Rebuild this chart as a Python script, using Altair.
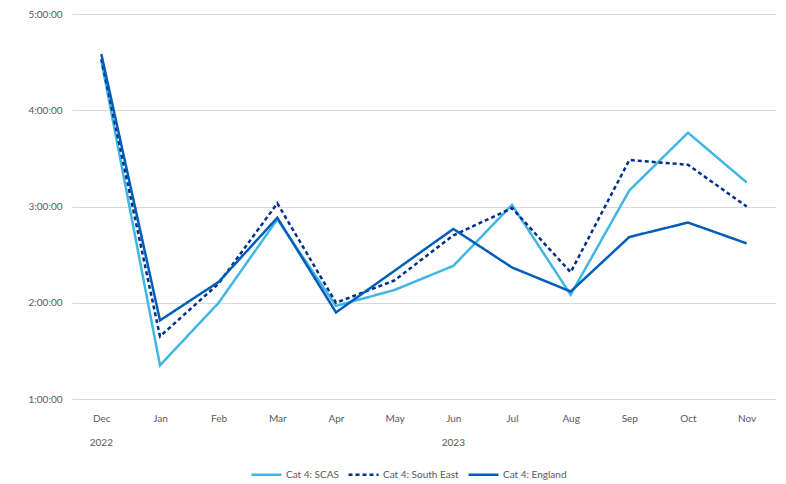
import altair as alt
import pandas as pd

# Monthly Category 4 response times (h:mm)
months = ["Dec", "Jan", "Feb", "Mar", "Apr", "May", "Jun", "Jul", "Aug", "Sep", "Oct", "Nov"]
scas = ["4:31", "1:21", "2:00", "2:52", "1:58", "2:08", "2:23", "3:01", "2:05", "3:10", "3:46", "3:15"]
south_east = ["4:32", "1:39", "2:12", "3:02", "2:00", "2:14", "2:42", "2:59", "2:19", "3:29", "3:26", "3:00"]
england = ["4:35", "1:49", "2:13", "2:53", "1:54", "2:20", "2:46", "2:22", "2:07", "2:41", "2:50", "2:37"]

series_names = ["Cat 4: SCAS", "Cat 4: South East", "Cat 4: England"]
series_colors = ["#41B6E6", "#003087", "#005EB8"]
series_dashes = [[1, 0], [4, 3], [1, 0]]

year_labels = ["2022", "2023"]
year_anchor = ["Dec", "Jun"]


def to_hours(s):
    h, m = s.split(":")
    return int(h) + int(m) / 60.0


rows = []
for name, vals in zip(series_names, [scas, south_east, england]):
    for i, (mo, v) in enumerate(zip(months, vals)):
        rows.append({"month": mo, "series": name, "hours": to_hours(v), "order": i})
df = pd.DataFrame(rows)
years_df = pd.DataFrame({"month": year_anchor, "year": year_labels})

FONT = "Lato"
GREY = "#595959"
W, H = 704, 385


def legend():
    return alt.Legend(
        title=None, orient="none", legendX=178, legendY=444,
        direction="horizontal", symbolType="stroke", symbolSize=900,
        symbolStrokeWidth=2.5, labelFont=FONT, labelFontSize=10,
        labelColor=GREY, columnPadding=4, labelOffset=3,
    )


x_scale = alt.Scale(type="point", padding=0.5, domain=months)

lines = alt.Chart(df).mark_line(strokeWidth=2.5, strokeJoin="miter").encode(
    x=alt.X(
        "month:N",
        sort=months,
        scale=x_scale,
        axis=alt.Axis(
            title=None, domain=False, ticks=False, grid=False, labelAngle=0,
            labelPadding=14, labelFont=FONT, labelFontSize=10, labelColor=GREY,
        ),
    ),
    y=alt.Y(
        "hours:Q",
        scale=alt.Scale(domain=[1, 5], nice=False, zero=False),
        axis=alt.Axis(
            title=None, domain=False, ticks=False, values=[1, 2, 3, 4, 5],
            labelExpr="datum.value + ':00:00'", labelPadding=10,
            labelFont=FONT, labelFontSize=10, labelColor=GREY,
            gridColor="#D9D9D9", gridWidth=1,
        ),
    ),
    color=alt.Color(
        "series:N",
        scale=alt.Scale(domain=series_names, range=series_colors),
        legend=legend(),
    ),
    strokeDash=alt.StrokeDash(
        "series:N",
        scale=alt.Scale(domain=series_names, range=series_dashes),
        legend=legend(),
    ),
    order="order:Q",
)

# Year labels under the month axis
years = alt.Chart(years_df).mark_text(
    font=FONT, fontSize=10, color=GREY, baseline="middle"
).encode(
    x=alt.X("month:N", sort=months, scale=x_scale),
    y=alt.value(H + 44),
    text="year:N",
)

chart = alt.layer(lines, years).properties(
    width=W, height=H,
    background="white",
    autosize=alt.AutoSizeParams(type="none"),
    padding={"left": 72, "top": 14, "right": 10, "bottom": 85},
).configure_view(stroke=None)

chart.save("out.html", embed_options={"renderer": "svg", "actions": False})
